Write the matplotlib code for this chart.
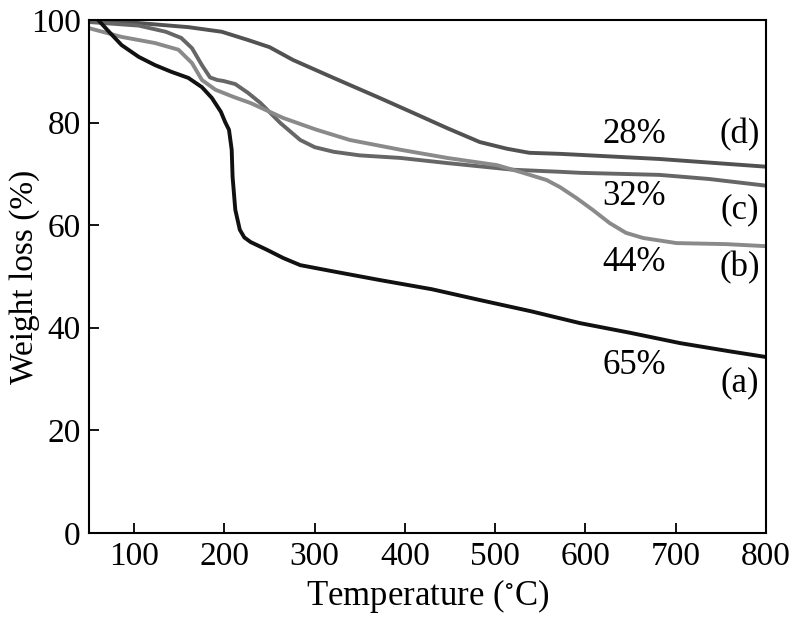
import matplotlib
matplotlib.use("Agg")
import matplotlib.pyplot as plt

plt.rcParams['font.family'] = ['Liberation Serif', 'DejaVu Serif']
plt.rcParams['mathtext.fontset'] = 'stix'

# Curve (a)
a_T = [60, 72, 86, 105, 123, 141, 160, 175, 186, 196, 201, 205, 208, 209, 212, 217, 222, 229, 247, 265, 284, 320, 372, 430, 483, 540, 594, 650, 705, 760, 800]
a_W = [100, 97.7, 95.1, 92.8, 91.2, 89.9, 88.7, 86.9, 84.8, 82.1, 80.0, 78.6, 74.7, 69.4, 63.0, 59.1, 57.6, 56.7, 55.2, 53.6, 52.2, 51.0, 49.3, 47.5, 45.4, 43.2, 40.9, 39.0, 37.0, 35.4, 34.3]
# Curve (b)
b_T = [50, 86, 123, 149, 164, 175, 190, 210, 229, 265, 302, 339, 395, 447, 502, 531, 557, 572, 590, 608, 627, 645, 664, 701, 756, 800]
b_W = [98.4, 96.7, 95.5, 94.2, 91.6, 88.3, 86.4, 85.0, 83.8, 80.9, 78.6, 76.6, 74.7, 73.1, 71.7, 70.2, 68.8, 67.4, 65.3, 63.0, 60.4, 58.5, 57.5, 56.5, 56.3, 55.9]
# Curve (c)
c_T = [50, 105, 135, 152, 164, 175, 184, 192, 199, 212, 226, 240, 262, 284, 300, 321, 350, 395, 447, 520, 572, 594, 682, 737, 800]
c_W = [99.6, 98.9, 97.7, 96.5, 94.5, 91.2, 88.8, 88.3, 88.1, 87.5, 85.8, 83.8, 79.9, 76.6, 75.2, 74.3, 73.6, 73.1, 72.1, 70.8, 70.4, 70.2, 69.8, 69.0, 67.7]
# Curve (d)
d_T = [50, 105, 160, 197, 226, 250, 276, 321, 372, 409, 447, 483, 513, 538, 572, 594, 682, 800]
d_W = [99.8, 99.4, 98.6, 97.7, 96.1, 94.7, 92.2, 88.7, 84.8, 81.9, 78.9, 76.2, 74.9, 74.1, 73.9, 73.7, 72.9, 71.4]

pct_labels = ["28%", "32%", "44%", "65%"]
pct_y = [77.6, 65.5, 52.8, 32.7]
ser_labels = ["(d)", "(c)", "(b)", "(a)"]
ser_y = [77.6, 63.0, 51.7, 29.2]

fig = plt.figure(figsize=(7.96, 6.24), dpi=100)
ax = fig.add_axes([0.112, 0.146, 0.850, 0.822])

lw = 2.8
kw = dict(lw=lw, solid_joinstyle='round', solid_capstyle='round')
ax.plot(d_T, d_W, color='#525252', **kw)
ax.plot(c_T, c_W, color='#666666', **kw)
ax.plot(b_T, b_W, color='#8a8a8a', **kw)
ax.plot(a_T, a_W, color='#111111', **kw)

for t, y in zip(pct_labels, pct_y):
    ax.text(654, y, t, fontsize=25, ha='center', va='center')
for t, y in zip(ser_labels, ser_y):
    ax.text(771, y, t, fontsize=25, ha='center', va='center')

ax.set_xlim(50, 800)
ax.set_ylim(0, 100)
ax.set_xticks([100, 200, 300, 400, 500, 600, 700, 800])
ax.set_yticks([0, 20, 40, 60, 80, 100])
ax.tick_params(direction='in', length=7, width=1.3, labelsize=24, pad=6, top=False, right=False)
for s in ax.spines.values():
    s.set_linewidth(1.5)
ax.set_xlabel('Temperature ($^{\\circ}$C)', fontsize=25, labelpad=4)
ax.set_ylabel('Weight loss (%)', fontsize=24)
ax.yaxis.set_label_coords(-0.072, 0.5)

fig.savefig('out.png', dpi=100)
